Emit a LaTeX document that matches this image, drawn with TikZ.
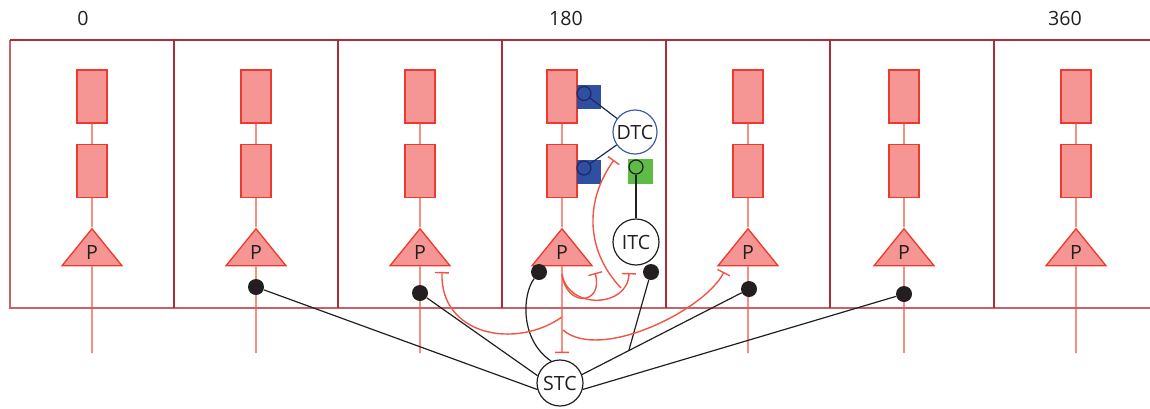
\documentclass[tikz,border=0pt]{standalone}
\usepackage{fontspec}
\setmainfont{Open Sans}
\usetikzlibrary{arrows.meta,calc,shapes.geometric}
\definecolor{ink}{RGB}{35,31,32}
\definecolor{frame}{RGB}{172,45,55}
\definecolor{framelt}{RGB}{196,100,106}
\definecolor{cellred}{RGB}{236,58,44}
\definecolor{cellfill}{RGB}{246,150,148}
\definecolor{axon}{RGB}{240,84,70}
\definecolor{dtcblue}{RGB}{62,92,170}
\definecolor{sqblue}{RGB}{47,80,160}
\definecolor{navy}{RGB}{28,40,100}
\definecolor{sqgreen}{RGB}{93,187,70}
\tikzset{
  lbl/.style={font=\fontsize{14.7}{17}\selectfont,text=ink},
  dend/.style={draw=cellred,fill=cellfill,line width=1.1pt,minimum width=22.5pt,
    minimum height=39.5pt,inner sep=0pt},
  pyr/.style={isosceles triangle,shape border rotate=90,isosceles triangle stretches,
    draw=cellred,fill=cellfill,line width=1pt,minimum width=45pt,minimum height=27.75pt,
    inner sep=0pt,lbl},
  cell/.style={circle,draw=ink,fill=white,line width=0.9pt,minimum size=34.5pt,
    inner sep=0pt,lbl},
  syn/.style={circle,fill=ink,minimum size=12pt,inner sep=0pt},
  rcpt/.style={circle,draw=navy,line width=0.9pt,minimum size=10.5pt,inner sep=0pt},
  sq/.style={minimum size=18pt,inner sep=0pt},
  wall/.style={draw=frame,line width=1.5pt},
  pline/.style={axon,line width=0.9pt},
  inh/.style={-{Bar[width=10.5pt]},axon,line width=1.05pt},
  wire/.style={ink,line width=0.9pt},
}

\begin{document}
\begin{tikzpicture}[x=0.75pt,y=-0.75pt]
  \useasboundingbox (0,0) rectangle (1150,408);
  \draw[wall,draw=framelt] (10,40) -- (10,308) -- (1150,308);
  \draw[wall] (10,40) -- (1150,40);
  \foreach \x in {174,338,502,666,830,994}
    \draw[wall] (\x,40) -- (\x,308);

  \node[lbl] (deg0) at (83,18) {0};
  \node[lbl] (deg180) at (566,18) {180};
  \node[lbl] (deg360) at (1065,18) {360};

  \foreach \x [count=\i] in {92,256,420,562,748,904,1076}{
    \node[dend] (ra\i) at (\x,96.5) {};
    \node[dend] (rb\i) at (\x,171) {};
    \node[pyr,anchor=apex] (p\i) at (\x,227) {P};
    \coordinate (e\i) at (\x,353);
    \draw[pline] (ra\i) -- (rb\i) -- (p\i);
    \ifnum\i=4 \draw[inh] (p\i) -- (e\i); \else \draw[pline] (p\i) -- (e\i); \fi
  }

  \node[sq,fill=sqblue] (qa) at (589,97) {};
  \node[sq,fill=sqblue] (qb) at (589,171.5) {};
  \node[sq,fill=sqgreen,minimum size=18.75pt] (qg) at (640.5,171.5) {};
  \node[rcpt] (ca) at (584,93.5) {};
  \node[rcpt] (cb) at (584,168) {};
  \node[rcpt,draw=ink] (cg) at (636,167) {};

  \node[cell,draw=dtcblue,minimum size=33pt] (dtc) at (635,132) {DTC};
  \node[cell] (itc) at (636,242) {ITC};
  \node[cell] (stc) at (560,383) {STC};

  \node[syn] (s2) at (256,287) {};
  \node[syn] (s3) at (420,293) {};
  \node[syn] (s4) at (539,272) {};
  \node[syn] (s5) at (749,289) {};
  \node[syn] (s6) at (904,294) {};
  \node[syn] (si) at (651,272) {};

  \draw[navy,line width=0.9pt] (ca) -- (dtc);
  \draw[navy,line width=0.9pt] (cb) -- (dtc);
  \draw[wire] (cg) -- (itc);

  \draw[wire] (stc.196) -- (s2);
  \draw[wire] (stc.162) -- (s3);
  \draw[wire] (stc.21) -- (s5);
  \draw[wire] (stc.-16) -- (s6);
  \draw[wire] (stc.112) .. controls (520,340) and (522,295) .. (s4);
  \coordinate (br) at ($(stc.21)!0.28!(s5)$);
  \draw[wire] (br) -- (si);

  \coordinate (pa) at (562,274);
  \coordinate (pl) at (562,317);
  \coordinate (pr) at (563,330);
  \coordinate (ib) at (621,288);
  \coordinate (tloop) at (595,273);
  \coordinate (titc) at (629,273);
  \coordinate (tdtc) at (614,160);
  \coordinate (tp3) at (442,272);
  \coordinate (tp5) at (724,272);
  \draw[inh] (pa) .. controls (566,308) and (604,305) .. (tloop);
  \draw[inh] (pa) .. controls (568,310) and (628,308) .. (titc);
  \draw[inh] (ib) .. controls (585,250) and (585,200) .. (tdtc);
  \draw[inh] (pl) .. controls (515,350) and (440,335) .. (tp3);
  \draw[inh] (pr) .. controls (600,362) and (705,310) .. (tp5);
\end{tikzpicture}
\end{document}
